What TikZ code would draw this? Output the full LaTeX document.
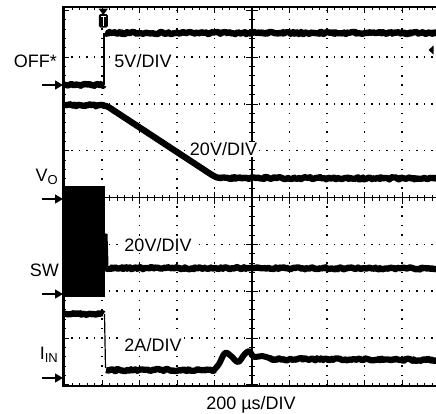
\documentclass[tikz,border=0pt]{standalone}
\usepackage{fontspec}
\setmainfont{Liberation Sans}
\usetikzlibrary{arrows.meta,decorations.pathmorphing}
\begin{document}
\begin{tikzpicture}[x=1pt,y=-1pt,
  lbl/.style={font=\fontsize{18}{20}\selectfont, inner sep=1pt},
  divlbl/.style={lbl, fill=white},
  trace/.style={line width=6.3pt, line join=round, decorate, decoration={random steps, segment length=1.6pt, amplitude=1.1pt}},
  thin trace/.style={line width=1.2pt},
  dot/.style={fill=black},
  chanarrow/.style={line width=1.3pt, -{Triangle[length=8pt,width=9pt]}},
  tick/.style={line width=0.8pt}]
\pgfmathsetseed{7}
\useasboundingbox (0,0) rectangle (436,413);
\fill[white] (0,0) rectangle (436,413);
% ---------- grid dots ----------
\foreach \i in {1,2,3,4,6,7,8,9} {
  \foreach \k in {0,...,40} {
    \fill[dot] ({64.5+37.5*\i-0.75},{10.3+9.36*\k-0.75}) rectangle ++(1.5,1.5);
  }
}
\foreach \j in {1,2,3,5,6,7} {
  \foreach \k in {0,...,50} {
    \fill[dot] ({64.5+7.5*\k-0.75},{10.3+46.8*\j-0.75}) rectangle ++(1.5,1.5);
  }
}
% ---------- centre axes ----------
\draw[line width=1.1pt] (252,8) -- (252,385);
\draw[line width=1.1pt] (64,197.5) -- (438,197.5);
\foreach \k in {0,...,50} {
  \pgfmathsetmacro{\tl}{ifthenelse(mod(\k,5)==0,6,3)}
  \draw[tick] ({64.5+7.5*\k},{197.5-\tl}) -- ({64.5+7.5*\k},{197.5+\tl});
  \draw[tick] ({64.5+7.5*\k},8) -- ({64.5+7.5*\k},{8+\tl-1});
  \draw[tick] ({64.5+7.5*\k},385) -- ({64.5+7.5*\k},{385-\tl+1});
}
\foreach \k in {0,...,40} {
  \pgfmathsetmacro{\tl}{ifthenelse(mod(\k,5)==0,6,3)}
  \draw[tick] ({252-\tl},{10.3+9.36*\k}) -- ({252+\tl},{10.3+9.36*\k});
  \draw[tick] (64,{10.3+9.36*\k}) -- ({64+\tl-1},{10.3+9.36*\k});
}
% ---------- frame ----------
\draw[line width=2.2pt] (438,7.3) -- (63.5,7.3) -- (63.5,385.8) -- (438,385.8);
% ---------- labels ----------
\node[divlbl] (l5v) at (143,61) {5V/DIV};
\node[divlbl] (l20a) at (223.5,149.5) {20V/DIV};
\node[divlbl] (l20b) at (158,245) {20V/DIV};
\node[divlbl] (l2a) at (153,345) {2A/DIV};
\node[lbl] (ltime) at (251,405) {200 µs/DIV};
\node[lbl, anchor=east] (loff) at (58,61) {OFF*};
\node[lbl, anchor=east] (lvo) at (59,177) {V\raisebox{-0.35ex}{\fontsize{13}{13}\selectfont O}};
\node[lbl, anchor=east] (lsw) at (60,270.5) {SW};
\node[lbl, anchor=east] (lin) at (59,355) {I\raisebox{-0.35ex}{\fontsize{13}{13}\selectfont IN}};
% ---------- channel arrows ----------
\coordinate (a1s) at (42,85);  \coordinate (a1e) at (63,85);
\coordinate (a2s) at (42,199); \coordinate (a2e) at (63,199);
\coordinate (a3s) at (42,294); \coordinate (a3e) at (63,294);
\coordinate (a4s) at (42,378); \coordinate (a4e) at (63,378);
\draw[chanarrow] (a1s) -- (a1e);
\draw[chanarrow] (a2s) -- (a2e);
\draw[chanarrow] (a3s) -- (a3e);
\draw[chanarrow] (a4s) -- (a4e);
% ---------- trigger markers ----------
\fill (98.5,8.5) -- (108,8.5) -- (103.3,15) -- cycle;
\fill[rounded corners=1.5pt] (98.8,14) rectangle (107.8,27.5);
\draw[white, line width=1pt] (100.8,16.5) -- (105.8,16.5) (103.3,16.5) -- (103.3,25.5);
\fill (428.5,50) -- (433.5,45.5) -- (433.5,54.5) -- cycle;
% ---------- OFF* trace ----------
\draw[trace] (64,85) -- (103.5,85);
\draw[thin trace] (104,85) -- (104,33);
\draw[trace] (105,33) -- (440,33);
% ---------- VO trace ----------
\draw[trace] (64,105) -- (104,105.5);
\draw[line width=6.3pt, line join=round] (103,105.5) .. controls (108,106) and (109,107.5) .. (113,110) -- (212,175) .. controls (215,177) and (217,178) .. (222,178);
\draw[trace] (220,178) -- (440,178.5);
% ---------- SW trace ----------
\fill (63.5,186) rectangle (105,297);
\fill (104,233) -- (107.5,234) -- (108.5,264) -- (104,272) -- cycle;
\draw[trace] (106,268) -- (440,268.5);
% ---------- IIN trace ----------
\draw[trace] (64,314) -- (103.5,314);
\draw[thin trace] (104.5,314) -- (105.5,368);
\draw[trace] (106,370) -- (216,370);
\draw[line width=6pt, line join=round] plot[smooth, tension=0.6] coordinates {(214,370) (219,364) (225,353) (231,356) (238,362) (244,355) (249,351) (254,357) (262,356) (272,359)};
\draw[trace] (270,359) -- (440,360);
\end{tikzpicture}
\end{document}
